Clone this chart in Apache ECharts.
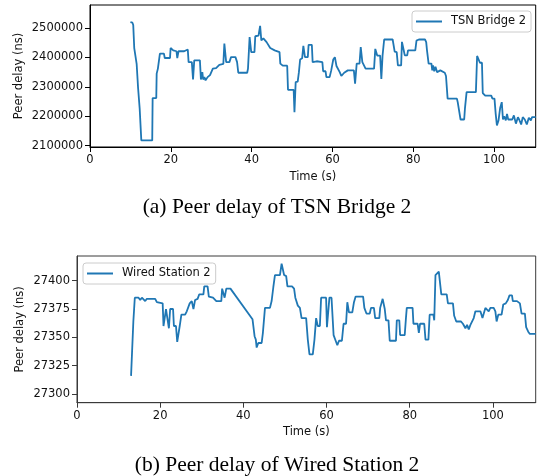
<!DOCTYPE html>
<html><head><meta charset="utf-8">
<script src="https://cdn.jsdelivr.net/npm/echarts@6.0.0/dist/echarts.min.js"></script>
<style>html,body{margin:0;padding:0;background:#fff}#c{width:540px;height:476px}</style>
</head><body><div id="c"></div>
<script>
const bridgeTime = [10.0,10.5,10.7,10.95,11.2,11.55,11.75,11.9,12.1,12.3,12.55,12.7,15.4,15.5,16.4,16.5,16.8,17.3,18.3,18.5,19.8,19.95,20.6,21.4,21.6,21.9,23.3,23.6,24.2,24.4,25.2,25.5,25.8,27.2,27.45,27.8,28.0,28.3,28.6,29.1,29.7,30.4,31.2,32.0,33.0,33.25,33.7,34.5,34.9,36.0,36.4,36.7,38.9,39.1,39.5,39.9,40.7,40.9,41.7,42.1,42.4,42.9,43.7,44.6,45.7,46.9,47.1,47.7,48.8,49.0,50.4,50.6,50.9,51.4,51.7,52.0,52.5,52.8,53.2,53.9,54.1,54.9,55.1,56.1,57.5,57.7,58.3,58.5,59.3,59.7,60.2,60.6,61.0,61.4,61.8,62.2,62.9,63.8,65.3,65.6,66.0,66.7,67.0,67.4,68.2,70.3,70.6,71.1,71.8,72.1,72.4,72.8,74.9,75.1,75.4,75.9,76.2,77.0,77.2,77.6,77.9,78.5,78.7,80.5,80.8,81.4,82.9,83.2,83.4,83.8,84.5,84.7,84.9,85.2,85.5,85.9,86.3,86.7,87.1,87.8,88.1,88.3,88.5,90.8,91.0,91.3,91.7,92.6,92.8,93.2,95.5,95.8,96.1,96.5,97.0,97.2,97.8,99.3,99.6,100.1,100.4,100.7,101.1,101.5,101.9,102.2,102.5,102.9,103.2,103.5,104.0,104.5,104.9,105.4,105.9,106.2,106.7,107.1,107.6,108.1,108.6,109.1,109.4,110.3];
const bridgeDelay = [2520000,2518000,2510000,2432000,2430000,2377000,2377000,2296000,2296000,2225000,2225000,2118000,2118000,2262000,2262000,2345000,2362000,2413000,2413000,2398000,2398000,2432000,2424000,2421000,2398000,2421000,2421000,2427000,2427000,2384000,2384000,2325000,2390000,2390000,2325000,2350000,2325000,2333000,2322000,2333000,2340000,2362000,2364000,2375000,2378000,2447000,2384000,2384000,2401000,2401000,2384000,2348000,2348000,2362000,2469000,2418000,2418000,2472000,2474000,2507000,2458000,2465000,2452000,2432000,2424000,2418000,2379000,2372000,2372000,2290000,2290000,2214000,2316000,2318000,2350000,2393000,2397000,2439000,2401000,2401000,2443000,2443000,2384000,2387000,2384000,2353000,2353000,2333000,2333000,2356000,2393000,2401000,2371000,2371000,2350000,2337000,2348000,2356000,2356000,2311000,2379000,2379000,2435000,2384000,2362000,2362000,2429000,2406000,2406000,2327000,2406000,2461000,2461000,2458000,2420000,2418000,2373000,2373000,2453000,2427000,2407000,2407000,2424000,2424000,2457000,2461000,2461000,2452000,2424000,2379000,2379000,2356000,2373000,2353000,2368000,2350000,2356000,2356000,2350000,2348000,2337000,2337000,2260000,2260000,2248000,2248000,2189000,2189000,2228000,2282000,2282000,2405000,2401000,2382000,2382000,2279000,2270000,2270000,2260000,2260000,2208000,2169000,2186000,2228000,2248000,2189000,2200000,2186000,2208000,2189000,2189000,2189000,2203000,2175000,2197000,2189000,2172000,2197000,2189000,2172000,2195000,2186000,2197000,2197000];
const stationTime = [13.0,13.45,13.55,13.7,13.9,14.8,15.2,15.6,16.0,16.4,16.8,18.8,19.2,20.6,20.8,21.2,21.4,21.8,22.1,22.4,23.1,23.3,23.8,24.1,24.5,24.7,25.1,26.0,26.4,26.8,27.1,27.6,28.0,28.4,29.0,29.4,30.4,30.6,31.4,31.7,32.7,33.5,34.7,34.9,35.3,35.5,35.9,36.9,42.2,42.5,42.7,43.0,43.2,43.6,44.4,44.7,45.0,45.2,46.4,46.8,47.2,47.6,48.8,49.2,49.5,49.8,50.3,50.6,51.7,52.2,52.5,53.1,53.6,54.0,55.1,55.5,55.9,56.7,57.1,57.5,57.9,58.4,58.7,59.9,60.1,60.5,60.7,61.2,61.7,62.2,62.6,63.0,63.7,64.1,64.7,65.0,65.4,66.2,66.6,67.0,68.8,69.1,69.6,70.4,70.7,71.4,71.7,72.7,72.9,73.5,74.0,74.3,74.9,75.2,76.7,76.9,77.5,77.7,78.8,79.1,79.3,80.7,80.9,81.9,82.2,82.5,83.5,83.8,84.5,84.8,85.7,85.9,86.2,87.0,87.3,87.6,88.9,89.2,90.4,90.7,91.2,92.3,92.8,93.4,93.8,94.2,94.6,95.0,95.4,95.8,97.0,97.5,97.8,98.2,99.0,99.4,100.2,100.6,100.9,101.3,102.1,102.5,103.1,103.6,104.0,104.6,104.8,105.8,106.1,106.5,106.9,107.7,108.0,108.5,108.9,110.3];
const stationDelay = [27316,27316,27364,27365,27385,27385,27383,27385,27384,27382,27384,27384,27381,27380,27360,27360,27375,27375,27358,27375,27375,27360,27360,27346,27346,27360,27370,27370,27373,27373,27380,27382,27375,27383,27384,27388,27388,27395,27395,27386,27385,27382,27382,27393,27393,27385,27393,27393,27366,27366,27351,27348,27341,27345,27345,27354,27354,27376,27376,27382,27394,27405,27405,27415,27415,27405,27404,27395,27395,27393,27385,27378,27376,27367,27367,27348,27335,27335,27348,27367,27360,27360,27385,27385,27359,27359,27385,27385,27352,27347,27343,27347,27347,27362,27362,27381,27372,27372,27381,27386,27386,27376,27371,27371,27376,27376,27367,27367,27376,27384,27375,27365,27365,27347,27347,27365,27365,27352,27352,27367,27376,27376,27362,27362,27354,27362,27362,27348,27348,27370,27370,27365,27405,27408,27408,27388,27388,27380,27380,27369,27364,27364,27362,27358,27361,27357,27361,27361,27367,27373,27373,27367,27367,27376,27373,27376,27376,27373,27364,27370,27370,27379,27380,27383,27387,27387,27382,27382,27383,27380,27371,27371,27359,27355,27353,27353];
const timeTicks = [0, 20, 40, 60, 80, 100];
const bridgeTicks = [2100000, 2200000, 2300000, 2400000, 2500000];
const stationTicks = [27300, 27325, 27350, 27375, 27400];
const captions = ['(a) Peer delay of TSN Bridge 2', '(b) Peer delay of Wired Station 2'];
const seriesNames = ['TSN Bridge 2', 'Wired Station 2'];

const zip = (a, b) => a.map((v, i) => [v, b[i]]);
const FONT = 'DejaVu Sans';
const BLUE = '#1f77b4';
const plain = v => String(Math.round(v));

function xAx(gi, col, gap) {
  return {
    type: 'value', gridIndex: gi, min: 0, max: 110.3,
    axisLine: { show: true, lineStyle: { color: col, width: 1 } },
    axisTick: { show: true, length: 5, customValues: timeTicks, lineStyle: { color: col, width: 1 } },
    axisLabel: { customValues: timeTicks, formatter: plain, fontFamily: FONT, fontSize: 11.5, color: '#111', margin: 7 },
    splitLine: { show: false },
    name: 'Time (s)', nameLocation: 'middle', nameGap: gap, nameMoveOverlap: false,
    nameTextStyle: { fontFamily: FONT, fontSize: 11.5, color: '#111' }
  };
}
function yAx(gi, col, mn, mx, ticks, gap) {
  return {
    type: 'value', gridIndex: gi, min: mn, max: mx,
    axisLine: { show: true, lineStyle: { color: col, width: 1 } },
    axisTick: { show: true, length: 5, customValues: ticks, lineStyle: { color: col, width: 1 } },
    axisLabel: { customValues: ticks, formatter: plain, fontFamily: FONT, fontSize: 11.5, color: '#111', margin: 7 },
    splitLine: { show: false },
    name: 'Peer delay (ns)', nameLocation: 'middle', nameGap: gap, nameMoveOverlap: false,
    nameTextStyle: { fontFamily: FONT, fontSize: 11.5, color: '#111' }
  };
}
function leg(name, left, top) {
  return {
    data: [{ name: name, icon: 'rect' }], left: left, top: top, orient: 'horizontal',
    itemWidth: 26, itemHeight: 2, padding: [4, 5, 4, 4],
    itemStyle: { color: BLUE, borderWidth: 0 },
    backgroundColor: 'rgba(255,255,255,0.8)', borderColor: '#cccccc', borderWidth: 1, borderRadius: 3,
    textStyle: { fontFamily: FONT, fontSize: 11.5, color: '#111', padding: [0, 0, 0, 4], lineHeight: 13 },
    selectedMode: false
  };
}

const chart = echarts.init(document.getElementById('c'), null, { renderer: 'canvas' });
chart.setOption({
  animation: false,
  backgroundColor: '#fff',
  grid: [
    { left: 90, top: 5, right: 4.3, height: 142, show: true, borderColor: '#000', borderWidth: 1, containLabel: false },
    { left: 77, top: 256, right: 4.3, height: 146.7, show: true, borderColor: '#3a3a3a', borderWidth: 1, containLabel: false }
  ],
  xAxis: [xAx(0, '#000', 24), xAx(1, '#3a3a3a', 23)],
  yAxis: [yAx(0, '#000', 2095600, 2578200, bridgeTicks, 65), yAx(1, '#3a3a3a', 27292.3, 27421.8, stationTicks, 51)],
  legend: [leg(seriesNames[0], 412, 11), leg(seriesNames[1], 83, 263)],
  series: [
    { name: seriesNames[0], type: 'line', xAxisIndex: 0, yAxisIndex: 0, data: zip(bridgeTime, bridgeDelay),
      symbol: 'none', lineStyle: { color: BLUE, width: 1.8 }, itemStyle: { color: BLUE } },
    { name: seriesNames[1], type: 'line', xAxisIndex: 1, yAxisIndex: 1, data: zip(stationTime, stationDelay),
      symbol: 'none', lineStyle: { color: BLUE, width: 1.8 }, itemStyle: { color: BLUE } }
  ],
  graphic: [
    { type: 'text', x: 277, y: 207, style: { text: captions[0], font: '21.5px "Liberation Serif"', fill: '#000', textAlign: 'center', textVerticalAlign: 'middle', align: 'center', verticalAlign: 'middle' } },
    { type: 'text', x: 277, y: 465, style: { text: captions[1], font: '21.5px "Liberation Serif"', fill: '#000', textAlign: 'center', textVerticalAlign: 'middle', align: 'center', verticalAlign: 'middle' } }
  ]
});
</script></body></html>
